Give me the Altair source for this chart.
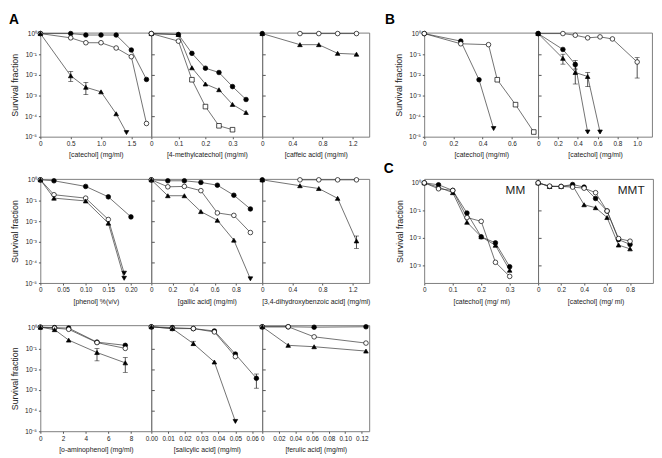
import altair as alt
import pandas as pd

FONT = "Liberation Sans"
LINE_COLOR = "#333333"

# ---------------- Panel A, row 1 ----------------
# [catechol]
A1_X = [0, 0.5, 0.75, 1.0, 1.25, 1.5, 1.75]
A1_FILLED = [1.0, 1.0, 0.85, 0.85, 0.85, 0.16, 0.006]
A1_OPEN = [1.0, 0.62, 0.36, 0.36, 0.2, 0.076, 4.4e-5]
A1_TRI_X = [0, 0.5, 0.75, 1.0, 1.25, 1.42]
A1_TRI = [1.0, 0.009, 0.0025, 0.0015, 1.3e-4, 1.6e-5]
A1_TRI_M = ["ft", "ft", "ft", "ft", "ft", "fd"]
A1_ERR_X = [0.5, 0.75]
A1_ERR_LO = [0.0048, 0.0011]
A1_ERR_HI = [0.0145, 0.0043]

# [4-methylcatechol]
A2_X = [0, 0.1, 0.15, 0.2, 0.25, 0.3, 0.35]
A2_FILLED = [1.0, 0.9, 0.11, 0.021, 0.013, 0.0027, 6.4e-4]
A2_TRI = [1.0, 0.9, 0.022, 0.0036, 0.0019, 3.7e-4, 1.5e-4]
A2_OPEN_X = [0, 0.1, 0.15, 0.2, 0.25, 0.3]
A2_OPEN = [1.0, 0.43, 0.0058, 2.9e-4, 3.4e-5, 2.2e-5]
A2_OPEN_M = ["oc", "oc", "os", "os", "os", "os"]

# [caffeic acid]
A3_X = [0, 0.5, 0.75, 1.0, 1.25]
A3_FILLED_X = [0]
A3_FILLED = [1.0]
A3_OPEN_X = [0.5, 0.75, 1.0, 1.25]
A3_OPEN = [1.0, 1.0, 1.0, 1.0]
A3_TRI = [1.0, 0.29, 0.29, 0.11, 0.1]

# ---------------- Panel A, row 2 ----------------
# [phenol] %(v/v)
A4_X = [0, 0.03, 0.1, 0.15, 0.2]
A4_FILLED = [1.0, 0.9, 0.48, 0.15, 0.016]
A4_LOW_X = [0, 0.03, 0.1, 0.15, 0.185]
A4_OPEN = [1.0, 0.19, 0.13, 0.012, 3e-5]
A4_OPEN_M = ["oc", "oc", "oc", "oc", "fd"]
A4_TRI = [1.0, 0.13, 0.095, 0.008, 1.7e-5]
A4_TRI_M = ["ft", "ft", "ft", "ft", "fd"]

# [gallic acid]
A5_X = [0, 0.156, 0.3125, 0.469, 0.625, 0.781, 0.9375]
A5_FILLED = [1.0, 0.9, 0.9, 0.75, 0.55, 0.18, 0.039]
A5_OPEN = [1.0, 0.46, 0.48, 0.3, 0.025, 0.019, 0.0028]
A5_TRI = [1.0, 0.17, 0.17, 0.029, 0.011, 0.0012, 1.6e-5]
A5_TRI_M = ["ft", "ft", "ft", "ft", "ft", "ft", "fd"]

# [3,4-dihydroxybenzoic acid]
A6_X = [0, 0.5, 0.75, 1.0, 1.25]
A6_FILLED_X = [0]
A6_FILLED = [1.0]
A6_OPEN_X = [0.5, 0.75, 1.0, 1.25]
A6_OPEN = [1.0, 1.0, 1.0, 1.0]
A6_TRI = [1.0, 0.52, 0.38, 0.127, 0.0011]
A6_ERR_X = [1.25]
A6_ERR_LO = [4.8e-4]
A6_ERR_HI = [0.0019]

# ---------------- Panel A, row 3 ----------------
# [o-aminophenol]
A7_X = [0, 1.25, 2.5, 5, 7.5]
A7_FILLED = [1.05, 1.0, 0.95, 0.2, 0.14]
A7_OPEN = [1.05, 0.95, 0.83, 0.19, 0.1]
A7_TRI = [1.05, 0.8, 0.25, 0.063, 0.02]
A7_ERR_X = [5, 7.5]
A7_ERR_LO = [0.025, 0.007]
A7_ERR_HI = [0.098, 0.036]

# [salicylic acid]
A8_X = [0, 0.0125, 0.025, 0.0375, 0.05, 0.0625]
A8_FILLED = [1.1, 1.0, 0.9, 0.69, 0.053, 0.0036]
A8_X5 = [0, 0.0125, 0.025, 0.0375, 0.05]
A8_OPEN = [1.1, 0.9, 0.9, 0.62, 0.04]
A8_TRI = [1.1, 0.9, 0.17, 0.022, 3e-5]
A8_TRI_M = ["ft", "ft", "ft", "ft", "fd"]
A8_ERR_X = [0.025, 0.0625]
A8_ERR_LO = [0.14, 0.0012]
A8_ERR_HI = [0.22, 0.0058]

# [ferulic acid]
A9_X = [0, 0.03125, 0.0625, 0.125]
A9_FILLED = [1.1, 1.1, 1.05, 1.1]
A9_OPEN = [1.1, 1.1, 0.36, 0.18]
A9_TRI = [1.1, 0.14, 0.12, 0.074]

# ---------------- Panel B ----------------
B1_FILLED_X = [0, 0.25, 0.375, 0.475]
B1_FILLED = [1.0, 0.43, 0.0058, 2.5e-5]
B1_FILLED_M = ["fc", "fc", "fc", "fd"]
B1_OPEN_X = [0, 0.25, 0.44, 0.5, 0.625, 0.75]
B1_OPEN = [1.0, 0.32, 0.29, 0.0058, 3.6e-4, 1.7e-5]
B1_OPEN_M = ["oc", "oc", "oc", "os", "os", "os"]

B2_OPEN_X = [0, 0.25, 0.375, 0.5, 0.625, 0.75, 1.0]
B2_OPEN = [1.0, 1.0, 0.83, 0.62, 0.69, 0.55, 0.042]
B2_FILLED_X = [0, 0.25, 0.375, 0.5]
B2_FILLED = [1.0, 0.17, 0.032, 1.7e-5]
B2_FILLED_M = ["fc", "fc", "fc", "fd"]
B2_TRI_X = [0, 0.25, 0.375, 0.5, 0.625]
B2_TRI = [1.0, 0.063, 0.013, 0.0083, 1.7e-5]
B2_TRI_M = ["ft", "ft", "ft", "ft", "fd"]
B2_ERR_X = [1.0, 0.375, 0.25, 0.375, 0.5]
B2_ERR_LO = [0.007, 0.019, 0.033, 0.0036, 0.0027]
B2_ERR_HI = [0.068, 0.05, 0.1, 0.027, 0.013]

# ---------------- Panel C ----------------
C1_X = [0, 0.05, 0.1, 0.15, 0.2, 0.25, 0.3]
C1_FILLED = [1.0, 0.85, 0.53, 0.08, 0.011, 0.0066, 9e-4]
C1_OPEN = [1.0, 0.61, 0.53, 0.055, 0.04, 0.0013, 4e-4]
C1_TRI = [1.0, 0.7, 0.44, 0.037, 0.011, 0.0054, 6.7e-4]

C2_X = [0, 0.1, 0.2, 0.3, 0.4, 0.5, 0.6, 0.7, 0.8]
C2_FILLED = [1.0, 0.74, 0.74, 0.87, 0.7, 0.27, 0.095, 0.0087, 0.0058]
C2_OPEN = [1.0, 0.76, 0.74, 0.7, 0.64, 0.44, 0.095, 0.0095, 0.0076]
C2_TRI = [1.0, 0.74, 0.74, 0.8, 0.16, 0.125, 0.055, 0.0055, 0.004]

# ---------------- axes ----------------
Y_TICKS_A = [1, 0.1, 0.01, 0.001, 1e-4, 1e-5]
Y_TICKS_C = [1, 0.1, 0.01, 0.001]
Y_TITLE = "Survival fraction"

MARK_CODES = ["fc", "oc", "ft", "os", "fd"]
MARK_SHAPES = ["circle", "circle", "triangle-up", "square", "triangle-down"]
MARK_FILLS = ["black", "white", "black", "white", "black"]

SUP_EXPR = "'10' + ['\u2070','\u207b\u00b9','\u207b\u00b2','\u207b\u00b3','\u207b\u2074','\u207b\u2075'][-round(log(datum.value)/LN10)]"


def label_expr(ticks, labels):
    arr_l = "[" + ",".join("'%s'" % l for l in labels) + "]"
    arr_t = "[" + ",".join(repr(t) for t in ticks) + "]"
    return "%s[indexof(%s, datum.value)]" % (arr_l, arr_t)


def panel(series, xdom, xticks, xlabels, xtitle, w, h, ydom, yticks, first,
          errs=None, notes=None, title=None):
    rows = []
    for name, xs, ys, marks in series:
        if isinstance(marks, str):
            marks = [marks] * len(xs)
        for i, (x, y, m) in enumerate(zip(xs, ys, marks)):
            rows.append({"s": name, "x": x, "y": y, "m": m, "k": i})
    df = pd.DataFrame(rows)

    xscale = alt.Scale(domain=xdom, nice=False, zero=False)
    yscale = alt.Scale(type="log", domain=ydom, nice=False)
    xaxis = alt.Axis(values=xticks, labelExpr=label_expr(xticks, xlabels),
                     title=xtitle, grid=False, domain=False, tickSize=2,
                     tickColor="#555", labelFontSize=6.5, titleFontSize=7,
                     titleFontWeight="normal", labelPadding=2, titlePadding=4,
                     labelFlush=False, labelOverlap=False, labelColor="#222",
                     titleColor="#222")
    if first:
        yaxis = alt.Axis(values=yticks, labelExpr=SUP_EXPR, title=Y_TITLE,
                         grid=False, domain=False, tickSize=2, tickColor="#555",
                         labelFontSize=6.5, titleFontSize=9,
                         titleFontWeight="normal", labelPadding=2,
                         titlePadding=5, labelFlush=False, labelColor="#222",
                         titleColor="#222")
    else:
        yaxis = alt.Axis(values=yticks[1:-1], labels=False, title=None,
                         grid=False, domain=False, tickSize=3, offset=-3,
                         tickColor="#555")
    X = alt.X("x:Q", scale=xscale, axis=xaxis)
    Y = alt.Y("y:Q", scale=yscale, axis=yaxis)
    base = alt.Chart(df)
    layers = [
        base.mark_line(color=LINE_COLOR, strokeWidth=0.7).encode(
            X, Y, detail="s:N", order="k:Q")
    ]
    if errs:
        ex, elo, ehi = errs
        edf = pd.DataFrame({"x": ex, "lo": elo, "hi": ehi})
        e = alt.Chart(edf)
        layers.append(e.mark_rule(color="black", strokeWidth=0.7).encode(
            X, alt.Y("lo:Q", scale=yscale, axis=yaxis), y2="hi:Q"))
        for f in ["lo", "hi"]:
            layers.append(e.mark_tick(orient="horizontal", size=5, thickness=0.7,
                                      color="black").encode(
                X, alt.Y(f + ":Q", scale=yscale, axis=yaxis)))
    layers.append(
        base.mark_point(filled=True, size=22, stroke="black", strokeWidth=0.7,
                        opacity=1).encode(
            X, Y,
            shape=alt.Shape("m:N", scale=alt.Scale(domain=MARK_CODES, range=MARK_SHAPES), legend=None),
            fill=alt.Fill("m:N", scale=alt.Scale(domain=MARK_CODES, range=MARK_FILLS), legend=None),
        )
    )
    if notes:
        nx, ny, nt = notes
        ndf = pd.DataFrame({"x": nx, "y": ny, "t": nt})
        layers.append(alt.Chart(ndf).mark_text(fontSize=12, font=FONT, color="#222").encode(
            X, Y, text="t:N"))
    ch = alt.layer(*layers).properties(width=w, height=h)
    if title is not None:
        ch = ch.properties(title=title)
    return ch


def letter(t, offset, dx):
    return alt.TitleParams(t, anchor="start", fontSize=14, fontWeight="bold",
                           font=FONT, offset=offset, dx=dx, color="black",
                           frame="bounds")


def spacer(w, h):
    return alt.Chart(pd.DataFrame({"v": [0]})).mark_point(opacity=0).encode(
        x=alt.X("v:Q", axis=None), y=alt.Y("v:Q", axis=None)
    ).properties(width=w, height=h, view=alt.ViewBackground(stroke="transparent"))


YA = [1e-5, 1.1]
YA3 = [1e-5, 1.3]
YC = [10 ** -3.64, 10 ** 0.14]
H = 106

p1 = panel([("f", A1_X, A1_FILLED, "fc"), ("o", A1_X, A1_OPEN, "oc"),
            ("t", A1_TRI_X, A1_TRI, A1_TRI_M)],
           [0, 1.83], [0, 0.5, 1.0, 1.5], ["0", "0.5", "1.0", "1.5"],
           "[catechol] (mg/ml)", 113, H, YA, Y_TICKS_A, True,
           errs=(A1_ERR_X, A1_ERR_LO, A1_ERR_HI), title=letter("A", 3, -2))
p2 = panel([("f", A2_X, A2_FILLED, "fc"), ("t", A2_X, A2_TRI, "ft"),
            ("o", A2_OPEN_X, A2_OPEN, A2_OPEN_M)],
           [0, 0.41], [0, 0.1, 0.2, 0.3], ["0", "0.1", "0.2", "0.3"],
           "[4-methylcatechol] (mg/ml)", 113, H, YA, Y_TICKS_A, False)
p3 = panel([("t", A3_X, A3_TRI, "ft"), ("f", A3_FILLED_X, A3_FILLED, "fc"),
            ("o", A3_OPEN_X, A3_OPEN, "oc")],
           [0, 1.42], [0, 0.4, 0.8, 1.2], ["0", "0.4", "0.8", "1.2"],
           "[caffeic acid] (mg/ml)", 109, H, YA, Y_TICKS_A, False)

p4 = panel([("f", A4_X, A4_FILLED, "fc"), ("o", A4_LOW_X, A4_OPEN, A4_OPEN_M),
            ("t", A4_LOW_X, A4_TRI, A4_TRI_M)],
           [0, 0.245], [0, 0.05, 0.1, 0.15, 0.2], ["0", "0.05", "0.10", "0.15", "0.20"],
           "[phenol] %(v/v)", 113, H, YA, Y_TICKS_A, True)
p5 = panel([("f", A5_X, A5_FILLED, "fc"), ("o", A5_X, A5_OPEN, "oc"),
            ("t", A5_X, A5_TRI, A5_TRI_M)],
           [0, 1.05], [0, 0.2, 0.4, 0.6, 0.8], ["0", "0.2", "0.4", "0.6", "0.8"],
           "[gallic acid] (mg/ml)", 113, H, YA, Y_TICKS_A, False)
p6 = panel([("t", A6_X, A6_TRI, "ft"), ("f", A6_FILLED_X, A6_FILLED, "fc"),
            ("o", A6_OPEN_X, A6_OPEN, "oc")],
           [0, 1.42], [0, 0.4, 0.8, 1.2], ["0", "0.4", "0.8", "1.2"],
           "[3,4-dihydroxybenzoic acid] (mg/ml)", 109, H, YA, Y_TICKS_A, False,
           errs=(A6_ERR_X, A6_ERR_LO, A6_ERR_HI))

p7 = panel([("f", A7_X, A7_FILLED, "fc"), ("o", A7_X, A7_OPEN, "oc"),
            ("t", A7_X, A7_TRI, "ft")],
           [0, 9.8], [0, 2, 4, 6, 8], ["0", "2", "4", "6", "8"],
           "[o-aminophenol] (mg/ml)", 113, 108, YA3, Y_TICKS_A, True,
           errs=(A7_ERR_X, A7_ERR_LO, A7_ERR_HI))
p8 = panel([("f", A8_X, A8_FILLED, "fc"), ("o", A8_X5, A8_OPEN, "oc"),
            ("t", A8_X5, A8_TRI, A8_TRI_M)],
           [0, 0.066], [0, 0.01, 0.02, 0.03, 0.04, 0.05, 0.06],
           ["0.00", "0.01", "0.02", "0.03", "0.04", "0.05", "0.06"],
           "[salicylic acid] (mg/ml)", 113, 108, YA3, Y_TICKS_A, False,
           errs=(A8_ERR_X, A8_ERR_LO, A8_ERR_HI))
p9 = panel([("f", A9_X, A9_FILLED, "fc"), ("o", A9_X, A9_OPEN, "oc"),
            ("t", A9_X, A9_TRI, "ft")],
           [0, 0.129], [0, 0.02, 0.04, 0.06, 0.08, 0.1, 0.12],
           ["0", "0.02", "0.04", "0.06", "0.08", "0.10", "0.12"],
           "[ferulic acid] (mg/ml)", 109, 108, YA3, Y_TICKS_A, False)

pb1 = panel([("f", B1_FILLED_X, B1_FILLED, B1_FILLED_M), ("o", B1_OPEN_X, B1_OPEN, B1_OPEN_M)],
            [0, 0.78], [0, 0.2, 0.4, 0.6], ["0", "0.2", "0.4", "0.6"],
            "[catechol] (mg/ml)", 116, H, YA, Y_TICKS_A, True, title=letter("B", 3, -10))
pb2 = panel([("o", B2_OPEN_X, B2_OPEN, "oc"), ("f", B2_FILLED_X, B2_FILLED, B2_FILLED_M),
             ("t", B2_TRI_X, B2_TRI, B2_TRI_M)],
            [0, 1.15], [0, 0.2, 0.4, 0.6, 0.8, 1.0], ["0", "0.2", "0.4", "0.6", "0.8", "1.0"],
            "[catechol] (mg/ml)", 116, H, YA, Y_TICKS_A, False,
            errs=(B2_ERR_X, B2_ERR_LO, B2_ERR_HI))

pc1 = panel([("f", C1_X, C1_FILLED, "fc"), ("t", C1_X, C1_TRI, "ft"), ("o", C1_X, C1_OPEN, "oc")],
            [0, 0.4], [0, 0.1, 0.2, 0.3], ["0", "0.1", "0.2", "0.3"],
            "[catechol]  (mg/ ml)", 116, H, YC, Y_TICKS_C, True,
            notes=([0.32], [0.55], ["MM"]), title=letter("C", 3, -12))
pc2 = panel([("f", C2_X, C2_FILLED, "fc"), ("t", C2_X, C2_TRI, "ft"), ("o", C2_X, C2_OPEN, "oc")],
            [0, 1.0], [0, 0.2, 0.4, 0.6, 0.8], ["0", "0.2", "0.4", "0.6", "0.8"],
            "[catechol]  (mg/ ml)", 117, H, YC, [1, 0.1, 0.01, 0.001, 0.0001], False,
            notes=([0.81], [0.55], ["MMT"]))

cells = [p1, p2, p3, spacer(56, H), pb1, pb2,
         p4, p5, p6, spacer(56, H), pc1, pc2,
         p7, p8, p9]

chart = alt.concat(*cells, columns=6, spacing={"row": 43, "column": 0}, bounds="flush").properties(
    padding={"left": 0, "top": 0, "right": 0, "bottom": 0}
).configure(font=FONT, background="white").configure_view(
    stroke="#6f6f6f", strokeWidth=0.9
)

chart.save("out.html", embed_options={"renderer": "svg", "actions": False})
